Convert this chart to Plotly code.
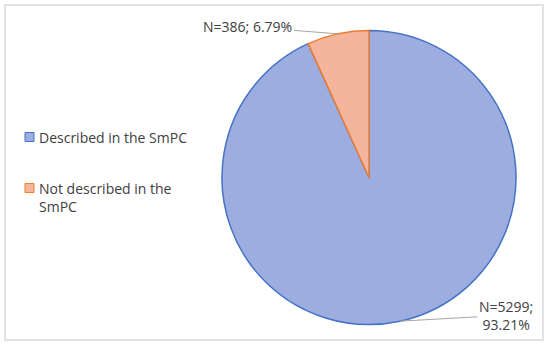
import math
import plotly.graph_objects as go

labels = ["Described in the SmPC", "Not described in the<br>SmPC"]
counts = [5299, 386]
percents = [93.21, 6.79]
fills = ["#9dade0", "#f5b59c"]
borders = ["#4472c4", "#ed7d31"]

W, H = 550, 345
dom_x = [0.4036, 0.9382]
dom_y = [0.058, 0.913]

fig = go.Figure(
    go.Pie(
        labels=labels,
        values=counts,
        sort=False,
        direction="clockwise",
        rotation=0,
        textinfo="none",
        hoverinfo="value+percent",
        showlegend=False,
        marker=dict(colors=fills, line=dict(color=borders, width=1.5)),
        domain=dict(x=dom_x, y=dom_y),
    )
)

# leader-line labels placed at the middle of each slice's outer edge
cx = (dom_x[0] + dom_x[1]) / 2
cy = (dom_y[0] + dom_y[1]) / 2
r_px = min((dom_x[1] - dom_x[0]) * W, (dom_y[1] - dom_y[0]) * H) / 2
total = sum(counts)
offsets = [(106, -6), (-90, -7)]
texts = ["N=%d;<br>%.2f%%" % (counts[0], percents[0]), "N=%d; %.2f%%" % (counts[1], percents[1])]
start = 0.0
for i, c in enumerate(counts):
    mid = start + c / total * 360 / 2
    start += c / total * 360
    th = math.radians(mid)
    px_ = cx + r_px * math.sin(th) / W
    py_ = cy + r_px * math.cos(th) / H
    fig.add_annotation(
        x=px_, y=py_, xref="paper", yref="paper",
        text=texts[i], showarrow=True, arrowhead=0, arrowwidth=1,
        arrowcolor="#a6a6a6", ax=offsets[i][0], ay=offsets[i][1],
        font=dict(size=14, color="#404040"), align="center",
    )

# legend drawn by hand (Excel style: small swatch, wide row gap)
row0, step, line_h, sw = 137, 51, 19, 9
for i, lab in enumerate(labels):
    yc = row0 + i * step
    fig.add_shape(type="rect", xref="paper", yref="paper",
                  x0=25 / W, x1=(25 + sw) / W,
                  y0=1 - (yc + sw / 2) / H, y1=1 - (yc - sw / 2) / H,
                  fillcolor=fills[i], line=dict(color=borders[i], width=1))
    nlines = lab.count("<br>") + 1
    fig.add_annotation(x=37 / W, y=1 - (yc + (nlines - 1) * line_h / 2) / H,
                       xref="paper", yref="paper", xanchor="left", yanchor="middle",
                       text=lab, showarrow=False, align="left",
                       font=dict(size=14, color="#404040"))

# chart area frame
fig.add_shape(type="rect", xref="paper", yref="paper", x0=5 / W, x1=543 / W,
              y0=1 - 340 / H, y1=1 - 5 / H, line=dict(color="#d9d9d9", width=1.5))

fig.update_layout(
    width=W, height=H,
    margin=dict(l=0, r=0, t=0, b=0),
    paper_bgcolor="white",
    font=dict(family="Open Sans, Liberation Sans, sans-serif", color="#404040"),
)

fig.write_html("out.html", config={"displayModeBar": False},
               post_script="document.body.style.margin='0';")
